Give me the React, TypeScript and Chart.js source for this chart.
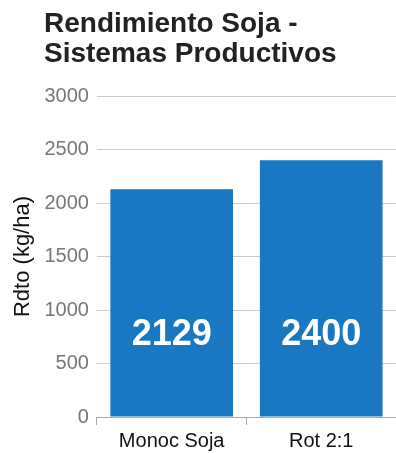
import React, { useEffect, useRef } from "react";
import { Chart, registerables } from "chart.js";

Chart.register(...registerables);

const titleLines = ["Rendimiento Soja -", "Sistemas Productivos"];
const categories = ["Monoc Soja", "Rot 2:1"];
const values = [2129, 2400];
const yAxisTitle = "Rdto (kg/ha)";
const yMin = 0;
const yMax = 3000;
const yStep = 500;

const FONT = "'Liberation Sans', Arial, Helvetica, sans-serif";
const BAR_COLOR = "#1a78c2";

const valueLabels = {
  id: "valueLabels",
  afterDatasetsDraw(chart: any) {
    const ctx = chart.ctx;
    const meta = chart.getDatasetMeta(0);
    ctx.save();
    ctx.fillStyle = "#ffffff";
    ctx.font = `bold 36px ${FONT}`;
    ctx.textAlign = "center";
    ctx.textBaseline = "middle";
    meta.data.forEach((bar: any, i: number) => {
      const v = chart.data.datasets[0].data[i];
      ctx.fillText(String(v), bar.x, bar.base - 81);
    });
    ctx.restore();
  },
};

export default function App() {
  const ref = useRef<HTMLCanvasElement | null>(null);
  useEffect(() => {
    document.body.style.margin = "0";
    const chart = new Chart(ref.current as HTMLCanvasElement, {
      type: "bar",
      data: {
        labels: categories,
        datasets: [
          {
            data: values,
            backgroundColor: BAR_COLOR,
            borderWidth: 0,
            barPercentage: 0.82,
            categoryPercentage: 1,
          },
        ],
      },
      options: {
        responsive: false,
        animation: false,
        layout: { padding: { top: 96, right: 0, bottom: -4, left: 0 } },
        plugins: {
          legend: { display: false },
          tooltip: { enabled: false },
          title: { display: false },
        },
        scales: {
          x: {
            grid: {
              drawOnChartArea: false,
              drawTicks: true,
              tickLength: 8,
              color: "#aaaaaa",
            },
            border: { color: "#aaaaaa" },
            ticks: {
              color: "#111111",
              font: { family: FONT, size: 20 },
              padding: 4,
            },
          },
          y: {
            min: yMin,
            max: yMax,
            ticks: {
              stepSize: yStep,
              color: "#777777",
              font: { family: FONT, size: 20 },
              padding: 8,
              callback: (v: any) => String(v),
            },
            grid: { color: "#cccccc", drawTicks: false },
            border: { display: false },
            title: {
              display: true,
              text: yAxisTitle,
              color: "#111111",
              font: { family: FONT, size: 22 },
              padding: { top: 10, bottom: 0 },
            },
          },
        },
      },
      plugins: [valueLabels],
    });
    return () => chart.destroy();
  }, []);

  return (
    <div style={{ position: "relative", width: 396, height: 453 }}>
      <canvas ref={ref} width={396} height={453} style={{ display: "block" }} />
      <div
        style={{
          position: "absolute",
          left: 44,
          top: 8,
          fontFamily: FONT,
          fontWeight: "bold",
          fontSize: 28,
          lineHeight: "30px",
          color: "#222222",
          whiteSpace: "nowrap",
        }}
      >
        {titleLines.map((l) => (
          <div key={l}>{l}</div>
        ))}
      </div>
    </div>
  );
}
